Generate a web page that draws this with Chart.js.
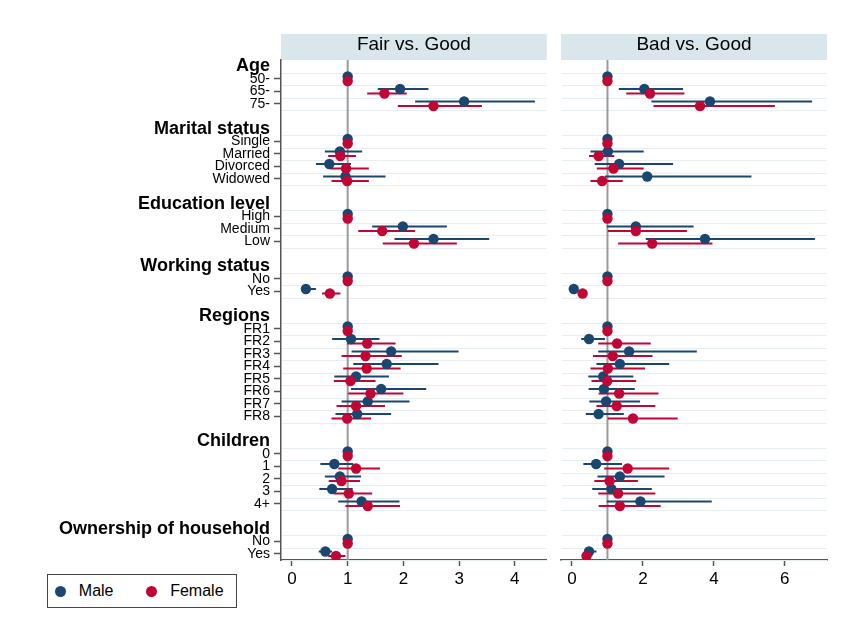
<!DOCTYPE html>
<html>
<head>
<meta charset="utf-8">
<script src="https://cdn.jsdelivr.net/npm/chart.js@4.4.1/dist/chart.umd.min.js"></script>
<style>
  html, body { margin: 0; padding: 0; background: #ffffff; }
  body { width: 844px; height: 619px; position: relative; overflow: hidden;
         font-family: "Liberation Sans", Arial, Helvetica, sans-serif; }
  #leftPanel { position: absolute; left: 0; top: 0; }
  #rightPanel { position: absolute; left: 550px; top: 0; }
  #legend { position: absolute; left: 47px; top: 574px; width: 188px; height: 32px;
            border: 1.5px solid #444; background: #fff; }
  #legend .dot { position: absolute; top: 11.3px; width: 11px; height: 11px; border-radius: 50%; }
  #legend .txt { position: absolute; top: 0; line-height: 32px; font-size: 16px; color: #000; white-space: nowrap; }
</style>
</head>
<body>
<canvas id="leftPanel" width="552" height="619"></canvas>
<canvas id="rightPanel" width="294" height="619"></canvas>
<div id="legend"></div>
<script>
// ---- Variable groups and their levels (first level of each group is the reference) ----
const groups = ['Age', 'Marital status', 'Education level', 'Working status', 'Regions', 'Children', 'Ownership of household'];
const levels = [
  ['50-', '65-', '75-'],
  ['Single', 'Married', 'Divorced', 'Widowed'],
  ['High', 'Medium', 'Low'],
  ['No', 'Yes'],
  ['FR1', 'FR2', 'FR3', 'FR4', 'FR5', 'FR6', 'FR7', 'FR8'],
  ['0', '1', '2', '3', '4+'],
  ['No', 'Yes']
];

const seriesNames = ['Male', 'Female'];
const panelTitles = ['Fair vs. Good', 'Bad vs. Good'];

// ---- Odds ratios and 95% CI, in level order (null = reference level, no interval) ----
// Fair vs. Good
const fairMaleEst = [1, 1.94, 3.09, 1, 0.86, 0.67, 0.96, 1, 1.99, 2.54, 1, 0.25, 1, 1.06, 1.78, 1.70, 1.15, 1.60, 1.36, 1.17, 1, 0.76, 0.86, 0.72, 1.25, 1, 0.60];
const fairMaleLo  = [null, 1.54, 2.21, null, 0.59, 0.43, 0.56, null, 1.44, 1.84, null, 0.17, null, 0.72, 1.07, 1.10, 0.76, 1.06, 0.89, 0.78, null, 0.51, 0.59, 0.49, 0.83, null, 0.48];
const fairMaleHi  = [null, 2.45, 4.36, null, 1.26, 1.06, 1.68, null, 2.78, 3.54, null, 0.43, null, 1.57, 2.99, 2.63, 1.74, 2.41, 2.11, 1.78, null, 1.10, 1.24, 1.09, 1.93, null, 0.72];

const fairFemaleEst = [1, 1.66, 2.54, 1, 0.87, 0.97, 0.99, 1, 1.62, 2.19, 1, 0.68, 1, 1.35, 1.32, 1.34, 1.05, 1.41, 1.15, 0.99, 1, 1.15, 0.89, 1.02, 1.36, 1, 0.79];
const fairFemaleLo  = [null, 1.35, 1.90, null, 0.65, 0.68, 0.71, null, 1.19, 1.63, null, 0.54, null, 0.99, 0.89, 0.92, 0.75, 1.01, 0.80, 0.71, null, 0.83, 0.66, 0.75, 0.96, null, 0.65];
const fairFemaleHi  = [null, 2.06, 3.41, null, 1.15, 1.38, 1.38, null, 2.21, 2.96, null, 0.87, null, 1.86, 1.97, 1.95, 1.50, 2.00, 1.67, 1.42, null, 1.58, 1.22, 1.44, 1.94, null, 0.96];

// Bad vs. Good
const badMaleEst = [1, 2.04, 3.89, 1, 1.01, 1.33, 2.12, 1, 1.80, 3.75, 1, 0.05, 1, 0.48, 1.61, 1.35, 0.88, 0.90, 0.96, 0.75, 1, 0.68, 1.35, 1.11, 1.93, 1, 0.48];
const badMaleLo  = [null, 1.32, 2.24, null, 0.52, 0.64, 0.93, null, 0.98, 2.08, null, 0.02, null, 0.26, 0.74, 0.69, 0.46, 0.47, 0.49, 0.39, null, 0.32, 0.72, 0.57, 0.98, null, 0.39];
const badMaleHi  = [null, 3.13, 6.77, null, 2.02, 2.85, 5.06, null, 3.43, 6.85, null, 0.12, null, 0.93, 3.52, 2.74, 1.73, 1.77, 1.92, 1.46, null, 1.41, 2.61, 2.25, 3.94, null, 0.69];

const badFemaleEst = [1, 2.20, 3.61, 1, 0.75, 1.17, 0.85, 1, 1.80, 2.26, 1, 0.30, 1, 1.27, 1.15, 1.01, 0.99, 1.33, 1.26, 1.72, 1, 1.57, 1.06, 1.30, 1.35, 1, 0.41];
const badFemaleLo  = [null, 1.53, 2.30, null, 0.48, 0.70, 0.52, null, 1.01, 1.30, null, 0.20, null, 0.74, 0.59, 0.52, 0.55, 0.75, 0.69, 1.01, null, 0.91, 0.63, 0.74, 0.75, null, 0.32];
const badFemaleHi  = [null, 3.17, 5.72, null, 1.19, 2.02, 1.43, null, 3.24, 3.96, null, 0.42, null, 2.22, 2.27, 2.06, 1.81, 2.44, 2.35, 2.98, null, 2.74, 1.86, 2.35, 2.50, null, 0.53];

// x-axis tick values of each panel
const fairTicks = [0, 1, 2, 3, 4];
const badTicks = [0, 2, 4, 6];

// ---- Styling ----
const FONT = '"Liberation Sans", Arial, Helvetica, sans-serif';
const MALE = '#1a476f';
const FEMALE = '#c10534';
const AXIS = '#555555';
const GRID = '#e6eef2';
const STRIP = '#d9e6ec';

// ---- Row layout: a header row per group, one row per level, one blank row between groups ----
const rowPos = [];
const headerPos = [];
const tickText = {};
let pos = 0;
groups.forEach((g, gi) => {
  headerPos.push(pos);
  tickText[pos] = g;
  levels[gi].forEach((lv, li) => {
    rowPos.push(pos + 1 + li);
    tickText[pos + 1 + li] = lv;
  });
  pos += levels[gi].length + 2;
});
const allTickPos = Object.keys(tickText).map(Number).sort((a, b) => a - b);
const yMin = -0.5;
const yMax = rowPos[rowPos.length - 1] + 0.5;
const SHIFT = 0.18; // vertical offset between the two series within a row

function points(est, shift) {
  return est.map((v, i) => ({ x: v, y: rowPos[i] + shift }));
}
function intervals(lo, hi, shift) {
  const out = [];
  lo.forEach((l, i) => {
    if (l === null || hi[i] === null) return;
    const y = rowPos[i] + shift;
    out.push({ x: l, y: y }, { x: hi[i], y: y }, { x: hi[i], y: null });
  });
  return out;
}

// Title strip, light row separators and the reference line at OR = 1
const panelDecor = {
  id: 'panelDecor',
  beforeDraw(chart) {
    const { ctx, chartArea } = chart;
    const tb = chart.titleBlock;
    ctx.save();
    ctx.fillStyle = STRIP;
    ctx.fillRect(chartArea.left, tb.top, chartArea.right - chartArea.left, chartArea.top - tb.top);
    ctx.restore();
  },
  beforeDatasetsDraw(chart) {
    const { ctx, chartArea, scales } = chart;
    const ys = scales.y, xs = scales.x;
    const lines = new Set();
    rowPos.forEach(r => { lines.add(r - 0.5); lines.add(r + 0.5); });
    ctx.save();
    ctx.strokeStyle = GRID;
    ctx.lineWidth = 1.2;
    lines.forEach(v => {
      const py = Math.round(ys.getPixelForValue(v)) + 0.5;
      ctx.beginPath();
      ctx.moveTo(chartArea.left + 1, py);
      ctx.lineTo(chartArea.right, py);
      ctx.stroke();
    });
    const px = xs.getPixelForValue(1);
    ctx.strokeStyle = '#9a9a9a';
    ctx.lineWidth = 2;
    ctx.beginPath();
    ctx.moveTo(px, chartArea.top);
    ctx.lineTo(px, chartArea.bottom);
    ctx.stroke();
    ctx.restore();
  }
};

function makePanel(canvasId, title, data, xMin, xMax, xTicks, showY, padding) {
  const [mEst, mLo, mHi, fEst, fLo, fHi] = data;
  return new Chart(document.getElementById(canvasId), {
    type: 'scatter',
    data: {
      datasets: [
        { label: seriesNames[1], data: points(fEst, SHIFT), order: 1,
          pointRadius: 5.2, pointHoverRadius: 5.2, pointBackgroundColor: FEMALE, pointBorderWidth: 0, borderColor: FEMALE },
        { label: seriesNames[0], data: points(mEst, -SHIFT), order: 2,
          pointRadius: 5.2, pointHoverRadius: 5.2, pointBackgroundColor: MALE, pointBorderWidth: 0, borderColor: MALE },
        { type: 'line', label: seriesNames[1] + ' CI', data: intervals(fLo, fHi, SHIFT), order: 3,
          borderColor: FEMALE, borderWidth: 1.8, pointRadius: 0, spanGaps: false, fill: false },
        { type: 'line', label: seriesNames[0] + ' CI', data: intervals(mLo, mHi, -SHIFT), order: 4,
          borderColor: MALE, borderWidth: 1.8, pointRadius: 0, spanGaps: false, fill: false }
      ]
    },
    options: {
      responsive: false,
      animation: false,
      devicePixelRatio: 1,
      events: [],
      layout: { padding: padding },
      plugins: {
        legend: { display: false },
        tooltip: { enabled: false },
        title: {
          display: true, text: title, fullSize: false, color: '#000',
          font: { family: FONT, size: 19, weight: 'normal', lineHeight: 1 },
          padding: { top: 1.5, bottom: 5.5 }
        }
      },
      scales: {
        x: {
          type: 'linear', position: 'bottom', min: xMin, max: xMax,
          afterBuildTicks: s => { s.ticks = xTicks.map(v => ({ value: v })); },
          afterFit: s => { s.height = 40; s.paddingLeft = 0; s.paddingRight = 0; },
          grid: { drawOnChartArea: false, drawTicks: true, tickLength: 6, tickColor: AXIS, tickWidth: 1.5 },
          border: { display: true, color: AXIS, width: 1.5 },
          ticks: { padding: 3, color: '#000', font: { family: FONT, size: 17 }, autoSkip: false, maxRotation: 0 }
        },
        y: {
          type: 'linear', reverse: true, min: yMin, max: yMax, display: showY,
          afterBuildTicks: s => { s.ticks = allTickPos.map(v => ({ value: v })); },
          afterFit: s => {
            if (showY) s.width = 281;
            s.paddingTop = 0;
            s.paddingBottom = 0;
          },
          grid: {
            drawOnChartArea: false, drawTicks: true, tickLength: 7, tickWidth: 1.5,
            tickColor: c => (c.tick && headerPos.includes(c.tick.value)) ? 'rgba(0,0,0,0)' : AXIS
          },
          border: { display: true, color: AXIS, width: 1.5 },
          ticks: {
            autoSkip: false, padding: 4, color: '#000',
            callback: v => tickText[v],
            font: c => (c.tick && headerPos.includes(c.tick.value))
              ? { family: FONT, size: 18, weight: 'bold' }
              : { family: FONT, size: 14, weight: 'normal' }
          }
        }
      }
    },
    plugins: [panelDecor]
  });
}

const leftChart = makePanel('leftPanel', panelTitles[0],
  [fairMaleEst, fairMaleLo, fairMaleHi, fairFemaleEst, fairFemaleLo, fairFemaleHi],
  -0.197, 4.574, fairTicks, true, { top: 34, bottom: 19, left: 0, right: 5 });

makePanel('rightPanel', panelTitles[1],
  [badMaleEst, badMaleLo, badMaleHi, badFemaleEst, badFemaleLo, badFemaleHi],
  -0.31, 7.19, badTicks, false, { top: 34, bottom: 19, left: 11, right: 17 });

// Legend built from the chart's point series
const legend = document.getElementById('legend');
const layout = { Male: [6.7, 30.8], Female: [98.3, 122.2] };
leftChart.data.datasets.filter(d => d.type !== 'line').reverse().forEach(d => {
  const [dx, tx] = layout[d.label];
  const dot = document.createElement('div');
  dot.className = 'dot';
  dot.style.left = dx + 'px';
  dot.style.background = d.pointBackgroundColor;
  const t = document.createElement('div');
  t.className = 'txt';
  t.style.left = tx + 'px';
  t.textContent = d.label;
  legend.appendChild(dot);
  legend.appendChild(t);
});
</script>
</body>
</html>
